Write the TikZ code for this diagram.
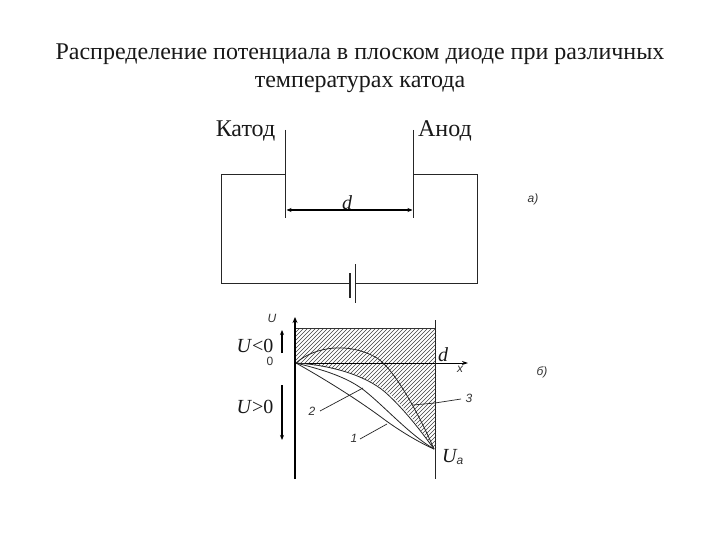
\documentclass[tikz,border=0pt]{standalone}
\usepackage{fontspec}
\setmainfont{Liberation Serif}
\setsansfont{Liberation Sans}
\usetikzlibrary{arrows.meta}
\tikzset{
  wire/.style={line width=0.9pt,black!85},
  big/.style={font=\fontsize{24}{28}\selectfont,inner sep=0pt,text=black!90},
  sym/.style={font=\fontsize{20}{24}\selectfont,inner sep=0pt,text=black!90},
  small/.style={font=\sffamily\itshape\fontsize{12}{14}\selectfont,inner sep=0pt,text=black!80},
  curve/.style={line width=0.8pt,black!85},
  arr/.style={line width=1.5pt,-{Stealth[length=5pt,width=4pt]}},
}
\begin{document}
\begin{tikzpicture}[x=1pt,y=-1pt]
\useasboundingbox (0,0) rectangle (720,540);
\fill[white] (0,0) rectangle (720,540);
% title
\node[big] (t1) at (360,54) {Распределение потенциала в плоском диоде при различных};
\node[big] (t2) at (360,84) {температурах катода};
\node[big] (kat) at (245.5,131) {Катод};
\node[big] (an) at (445,131) {Анод};
% circuit
\coordinate (kt) at (285.7,130);
\coordinate (kb) at (285.7,218);
\coordinate (at) at (413.3,130);
\coordinate (ab) at (413.3,218);
\draw[wire] (kt) -- (kb);
\draw[wire] (at) -- (ab);
\coordinate (batS) at (350,283);
\coordinate (batL) at (355.5,283);
\draw[wire] (285.7,174) -| (221,283) -- (batS);
\draw[wire] (413.3,174) -| (477,283) -- (batL);
\draw[line width=1.6pt,black!85] (350,273) -- (350,298);
\draw[wire] (355.5,264) -- (355.5,303);
\coordinate (dl) at (286.5,210);
\coordinate (dr) at (412.5,210);
\draw[line width=1.6pt,{Stealth[length=5pt,width=4pt]}-{Stealth[length=5pt,width=4pt]}] (dl) -- (dr);
\node[sym,font=\fontsize{20}{24}\selectfont\itshape] (d1) at (347,203) {d};
\node[small] (la) at (533,199) {а)};
% graph: hatching
\begin{scope}
\clip (296,328) -- (436,328) -- (436,450) -- (433,448)
  .. controls (415,420) and (395,395) .. (377,385)
  .. controls (355,372) and (325,366) .. (296,363) -- cycle;
\foreach \i in {0,4,...,300} {
  \draw[line width=0.5pt,black!75] (296+\i-130,458) -- (296+\i,328);
}
\end{scope}
\draw[line width=0.6pt,black!80] (296,328) -- (436,328);
% axes
\coordinate (ub) at (295,479);
\coordinate (ut) at (295,317);
\draw[line width=2pt,-{Stealth[length=6pt,width=5pt]}] (ub) -- (ut);
\coordinate (xo) at (296,363);
\coordinate (xe) at (468,363);
\draw[line width=1pt,-{Stealth[length=6pt,width=4pt]}] (xo) -- (xe);
\draw[wire] (435.5,320) -- (435.5,479);
% curves
\coordinate (ua) at (434,449);
\draw[curve] (xo) .. controls (315,346) and (350,342) .. (377,358)
  .. controls (394,369) and (418,412) .. (ua);
\draw[curve] (xo) .. controls (330,365) and (365,375) .. (385,392)
  .. controls (405,410) and (420,430) .. (ua);
\draw[curve] (xo) .. controls (315,368) and (345,375) .. (365,391)
  .. controls (385,407) and (410,435) .. (ua);
\draw[curve] (xo) .. controls (335,385) and (365,405) .. (385,420)
  .. controls (400,431) and (420,443) .. (ua);
% leaders
\draw[line width=0.7pt,black!85] (360,439) -- (387,424);
\draw[line width=0.7pt,black!85] (320,411) -- (363,388);
\draw[line width=0.7pt,black!85] (413,405) -- (435,403) -- (461,399);
% arrows
\draw[arr] (282,353) -- (282,330);
\draw[arr] (282,385) -- (282,440);
% labels
\node[small] (lu) at (272,318) {U};
\node[sym] (ulz) at (255,346) {\textit{U}<0};
\node[small,font=\sffamily\fontsize{12}{14}\selectfont] (z) at (270,361) {0};
\node[sym] (ugz) at (255,407) {\textit{U}>0};
\node[sym,font=\fontsize{20}{24}\selectfont\itshape] (d2) at (443,355) {d};
\node[small] (lx) at (460,369) {x};
\node[small] (l1) at (354,438) {1};
\node[small] (l2) at (312,411) {2};
\node[small] (l3) at (469,398) {3};
\node[sym] (ua1) at (450,456) {\textit{U}};
\node[small,font=\sffamily\itshape\fontsize{12}{14}\selectfont] (ua2) at (460,461) {а};
\node[small] (lb) at (542,372) {б)};
\end{tikzpicture}
\end{document}
